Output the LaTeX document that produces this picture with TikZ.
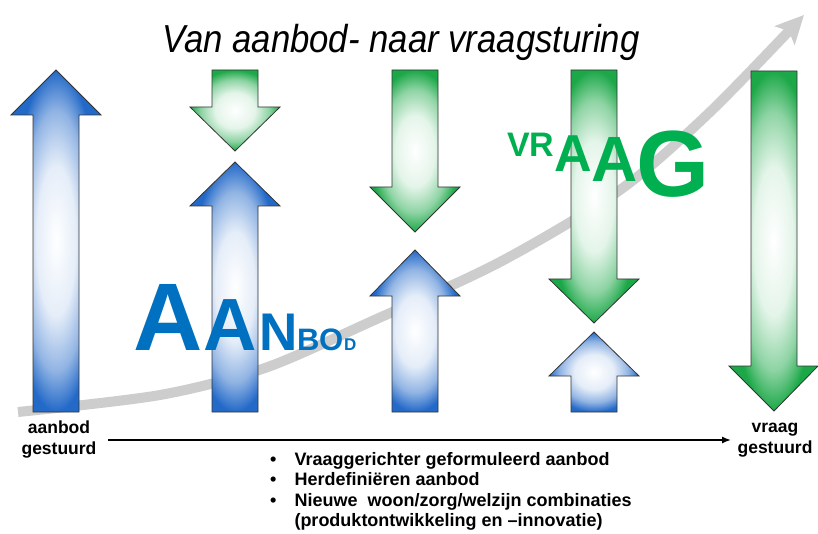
\documentclass[tikz,border=0pt]{standalone}
\usepackage{fontspec}
\setmainfont{Liberation Sans}
\newfontfamily\titlefont{Liberation Sans}[FakeStretch=0.89]
\usetikzlibrary{arrows.meta}

\definecolor{aanbodblue}{RGB}{0,112,192}
\definecolor{vraaggreen}{RGB}{0,176,80}
\definecolor{arrowblue}{RGB}{35,105,200}
\definecolor{arrowgreen}{RGB}{28,168,72}
\definecolor{curvegray}{RGB}{205,205,205}

\pgfdeclareradialshading{blueglow}{\pgfpointorigin}{color(0bp)=(white); color(11bp)=(arrowblue!12!white); color(19bp)=(arrowblue!50!white); color(25bp)=(arrowblue); color(50bp)=(arrowblue)}
\pgfdeclareradialshading{greenglow}{\pgfpointorigin}{color(0bp)=(white); color(11bp)=(arrowgreen!12!white); color(19bp)=(arrowgreen!50!white); color(25bp)=(arrowgreen); color(50bp)=(arrowgreen)}

\begin{document}
\begin{tikzpicture}[x=1pt,y=-1pt,
    upblock/.style ={draw=black!80, line width=0.8pt, shading=blueglow},
    downblock/.style ={draw=black!80, line width=0.8pt, shading=greenglow},
    aanbodletter/.style ={inner sep=0pt, anchor=base west, text=aanbodblue, font=\bfseries\fontsize{#1}{#1}\selectfont},
    vraagletter/.style ={inner sep=0pt, anchor=base west, text=vraaggreen, font=\bfseries\fontsize{#1}{#1}\selectfont},
    endlabel/.style ={align=center, font=\bfseries\fontsize{17.5}{21}\selectfont}]
   \useasboundingbox (0,0) rectangle (818,534);

   % growing curve behind everything
   \draw[curvegray, line width=10pt, -{Stealth[length=28pt, width=27pt, inset=6pt]}]
     plot[smooth] coordinates {(18,412) (160,395) (265,368) (370,322) (500,262) (620,190) (710,112) (804,15)};

   % up arrows (aanbod)
   \draw[upblock] (56,70) -- (101,115) -- (79,115) -- (79,412) -- (33,412) -- (33,115) -- (11,115) -- cycle;
   \draw[upblock] (235,162) -- (280,206) -- (258,206) -- (258,412) -- (212,412) -- (212,206) -- (190,206) -- cycle;
   \draw[upblock] (415,250) -- (460,296) -- (438,296) -- (438,412) -- (392,412) -- (392,296) -- (370,296) -- cycle;
   \draw[upblock] (594,332) -- (639,376) -- (617,376) -- (617,412) -- (571,412) -- (571,376) -- (549,376) -- cycle;

   % down arrows (vraag)
   \draw[downblock] (212,70) -- (258,70) -- (258,107) -- (280,107) -- (235,151) -- (190,107) -- (212,107) -- cycle;
   \draw[downblock] (392,70) -- (438,70) -- (438,187) -- (460,187) -- (415,232) -- (370,187) -- (392,187) -- cycle;
   \draw[downblock] (571,70) -- (617,70) -- (617,279) -- (639,279) -- (594,323) -- (549,279) -- (571,279) -- cycle;
   \draw[downblock] (751,71) -- (797,71) -- (797,366) -- (818,366) -- (774,411) -- (729,366) -- (751,366) -- cycle;

   % title
   \node[anchor=base, inner sep=0pt, font=\titlefont\itshape\fontsize{39}{39}\selectfont] (title) at (401,53) {Van aanbod- naar vraagsturing};

   % AANBOD
   \node[aanbodletter=96] (aA) at (133,350) {A};
   \node[aanbodletter=74] (aAA) at (203,350) {A};
   \node[aanbodletter=53] (aN) at (259,350) {N};
   \node[aanbodletter=31] (aB) at (297,350) {B};
   \node[aanbodletter=31] (aO) at (319,350) {O};
   \node[aanbodletter=17] (aD) at (344,350) {D};

   % VRAAG
   \node[vraagletter=34] (vV) at (507,157) {V};
   \node[vraagletter=34] (vR) at (529,157) {R};
   \node[vraagletter=52] (vA) at (554,172) {A};
   \node[vraagletter=64] (vAA) at (591,182) {A};
   \node[vraagletter=94] (vG) at (636,197) {G};

   % ends of the scale
   \node[endlabel] (aanbodlbl) at (59,440) {aanbod\\gestuurd};
   \node[endlabel] (vraaglbl) at (775,440) {vraag\\gestuurd};
   \draw[line width=1.5pt, -{Latex[length=9pt, width=7pt]}, shorten <=8pt, shorten >=3pt] (aanbodlbl) -- (vraaglbl);

   % bullets
   \node[anchor=base west, inner sep=0pt, font=\bfseries\fontsize{18}{20.5}\selectfont] (bullets) at (270,465)
     {\begin{tabular}[t]{@{}l@{\hspace{18pt}}l@{}}
      \textbullet & Vraaggerichter geformuleerd aanbod\\
      \textbullet & Herdefiniëren aanbod\\
      \textbullet & Nieuwe\ \ woon/zorg/welzijn combinaties\\
                  & (produktontwikkeling en –innovatie)
      \end{tabular}};
 \end{tikzpicture}
\end{document}
